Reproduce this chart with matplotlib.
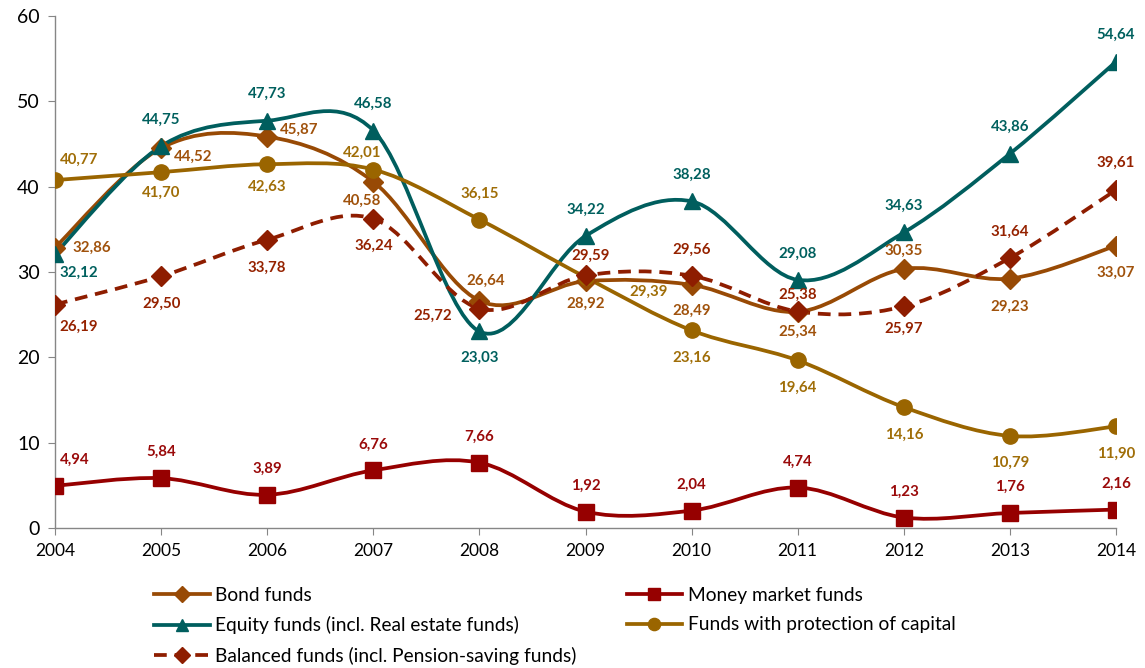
import matplotlib
matplotlib.use("Agg")
import matplotlib.pyplot as plt
from matplotlib.path import Path
from matplotlib.patches import PathPatch
from matplotlib.lines import Line2D

plt.rcParams['font.family'] = ['Lato', 'DejaVu Sans']

# ---------------- data ----------------
years = [2004, 2005, 2006, 2007, 2008, 2009, 2010, 2011, 2012, 2013, 2014]
bond = [32.86, 44.52, 45.87, 40.58, 26.64, 28.92, 28.49, 25.34, 30.35, 29.23, 33.07]
money = [4.94, 5.84, 3.89, 6.76, 7.66, 1.92, 2.04, 4.74, 1.23, 1.76, 2.16]
equity = [32.12, 44.75, 47.73, 46.58, 23.03, 34.22, 38.28, 29.08, 34.63, 43.86, 54.64]
protect = [40.77, 41.70, 42.63, 42.01, 36.15, 29.39, 23.16, 19.64, 14.16, 10.79, 11.90]
balanced = [26.19, 29.50, 33.78, 36.24, 25.72, 29.59, 29.56, 25.38, 25.97, 31.64, 39.61]
names = ["Bond funds", "Money market funds", "Equity funds (incl. Real estate funds)",
         "Funds with protection of capital", "Balanced funds (incl. Pension-saving funds)"]
yticks = [0, 10, 20, 30, 40, 50, 60]

# ---------------- label offsets (pixels) ----------------
off_bond = [(37, 0), (32, -9), (32, 7), (-11, -19), (6, 20), (0, -23), (0, -26), (0, -20), (0, 18), (0, -28), (0, -27)]
off_money = [(20, 26)] + [(0, 26)] * 10
off_equity = [(24, -19), (0, 26), (0, 27), (0, 27), (0, -26), (0, 26), (0, 27), (0, 26), (0, 27), (0, 27), (0, 27)]
off_protect = [(24, 20), (0, -21), (0, -23), (-11, 17), (0, 26), (63, -15), (0, -27), (0, -27), (0, -28), (0, -27), (0, -27)]
off_balanced = [(24, -22), (0, -28), (0, -28), (0, -27), (-47, -7), (5, 20), (0, 26), (0, 17), (0, -22), (0, 26), (0, 27)]

C_BOND = '#984A05'
C_MONEY = '#960000'
C_EQUITY = '#005E5E'
C_PROT = '#9A6500'
C_BAL = '#8E1D00'

series = [
    (bond, C_BOND, 'D', 10, '-', off_bond, '#A0520C'),
    (money, C_MONEY, 's', 11, '-', off_money, '#9A0A0A'),
    (equity, C_EQUITY, '^', 11, '-', off_equity, '#00605E'),
    (protect, C_PROT, 'o', 11, '-', off_protect, '#A06E08'),
    (balanced, C_BAL, 'D', 10, (0, (3.4, 2.1)), off_balanced, '#952200'),
]

fig = plt.figure(figsize=(11.45, 6.68), dpi=100)
ax = fig.add_axes([55 / 1145, 1 - 528 / 668, (1116 - 55) / 1145, (528 - 16) / 668])


def smooth_path(xs, ys):
    pts = list(zip(xs, ys))
    n = len(pts)
    verts = [pts[0]]
    codes = [Path.MOVETO]
    for i in range(n - 1):
        p0 = pts[i - 1] if i > 0 else pts[i]
        p1 = pts[i]
        p2 = pts[i + 1]
        p3 = pts[i + 2] if i + 2 < n else pts[i + 1]
        c1 = (p1[0] + (p2[0] - p0[0]) / 6, p1[1] + (p2[1] - p0[1]) / 6)
        c2 = (p2[0] - (p3[0] - p1[0]) / 6, p2[1] - (p3[1] - p1[1]) / 6)
        verts += [c1, c2, p2]
        codes += [Path.CURVE4] * 3
    return Path(verts, codes)


handles = []
for (vals, col, mk, ms, ls, offs, lcol), name in zip(series, names):
    patch = PathPatch(smooth_path(years, vals), facecolor='none', edgecolor=col,
                      lw=2.7, linestyle=ls, capstyle='butt', zorder=3)
    ax.add_patch(patch)
    ax.plot(years, vals, linestyle='none', marker=mk, markersize=ms, color=col,
            markeredgecolor=col, zorder=4)
    for x, v, (dx, dy) in zip(years, vals, offs):
        ax.annotate(f"{v:.2f}".replace('.', ','), (x, v), xytext=(dx * 0.72, dy * 0.72),
                    textcoords='offset points', ha='center', va='center',
                    fontsize=10.8, fontweight='bold', color=lcol, zorder=5)
    handles.append(Line2D([], [], color=col, lw=2.7, linestyle=ls, marker=mk,
                          markersize=ms * 0.8, markeredgecolor=col))

ax.set_xlim(2004, 2014)
ax.set_ylim(0, 60)
ax.set_yticks(yticks)
ax.set_xticks(years)
ax.tick_params(axis='y', labelsize=14, length=5, color='#868686', pad=6)
ax.tick_params(axis='x', labelsize=12.5, length=5, color='#868686', pad=6)
for s in ['top', 'right']:
    ax.spines[s].set_visible(False)
for s in ['left', 'bottom']:
    ax.spines[s].set_color('#868686')
    ax.spines[s].set_linewidth(1.0)
ax.patch.set_alpha(0)

order = [0, 2, 4, 1, 3]
leg = fig.legend([handles[i] for i in order], [names[i] for i in order], ncol=2,
                 loc='upper left', bbox_to_anchor=(154 / 1145, 1 - 587 / 668),
                 frameon=False, fontsize=13.8, handlelength=2.9, handletextpad=0.3,
                 columnspacing=2.6, labelspacing=0.64, borderpad=0, borderaxespad=0)

fig.savefig('out.png', dpi=100)
